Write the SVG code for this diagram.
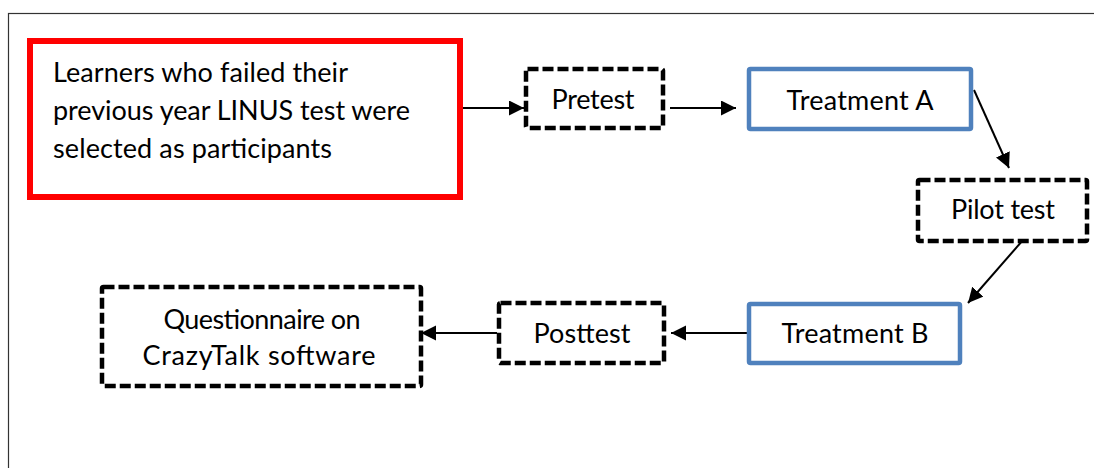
<svg xmlns="http://www.w3.org/2000/svg" width="1094" height="468" viewBox="0 0 1094 468">
  <style>
    text { font-family: Lato, "Open Sans", "Liberation Sans", sans-serif; font-size: 27px; fill: #000; }
    .c { text-anchor: middle; }
    .dash { fill: #fff; stroke: #000; stroke-width: 4.5; stroke-dasharray: 11 4; stroke-linejoin: round; }
    .blue { fill: #fff; stroke: #4F81BD; stroke-width: 4.5; }
    .red { fill: #fff; stroke: #FF0000; stroke-width: 6; }
    .conn { stroke: #000; stroke-width: 2; fill: none; marker-end: url(#ah); }
  </style>
  <defs>
    <marker id="ah" markerUnits="userSpaceOnUse" markerWidth="16" markerHeight="16" refX="15" refY="7.5" orient="auto">
      <path d="M0,0 L15,7.5 L0,15 z" fill="#000"/>
    </marker>
  </defs>
  <rect width="1094" height="468" fill="#fff"/>
  <rect id="frame" x="8.5" y="13.5" width="1100" height="470" fill="none" stroke="#333" stroke-width="1.2"/>

  <g id="connectors">
    <line class="conn" x1="463" y1="108" x2="524" y2="108"/>
    <line class="conn" x1="670" y1="108" x2="736" y2="108"/>
    <line class="conn" x1="974" y1="90" x2="1009" y2="168"/>
    <line class="conn" x1="1023" y1="240" x2="968" y2="303"/>
    <line class="conn" x1="747" y1="333" x2="671" y2="333"/>
    <line class="conn" x1="497" y1="333" x2="421" y2="333"/>
  </g>

  <g id="participants">
    <rect class="red" x="30" y="41" width="430" height="156"/>
    <text x="53" y="82" textLength="295">Learners who failed their</text>
    <text x="53" y="120" textLength="357">previous year LINUS test were</text>
    <text x="53" y="158" textLength="279">selected as participants</text>
  </g>
  <g id="pretest">
    <rect class="dash" x="526" y="69" width="137" height="59" rx="1.5"/>
    <text class="c" x="593" y="109" textLength="83">Pretest</text>
  </g>
  <g id="treatmentA">
    <rect class="blue" x="749" y="69" width="222" height="60" rx="1.5"/>
    <text class="c" x="860" y="110" textLength="147">Treatment A</text>
  </g>
  <g id="pilot">
    <rect class="dash" x="918" y="180" width="169" height="61" rx="1.5"/>
    <text class="c" x="1003" y="219" textLength="104">Pilot test</text>
  </g>
  <g id="treatmentB">
    <rect class="blue" x="749" y="304" width="211" height="59" rx="1.5"/>
    <text class="c" x="855" y="343" textLength="147">Treatment B</text>
  </g>
  <g id="posttest">
    <rect class="dash" x="499" y="303" width="165" height="60" rx="1.5"/>
    <text class="c" x="582" y="343" textLength="97">Posttest</text>
  </g>
  <g id="questionnaire">
    <rect class="dash" x="102" y="287" width="319" height="99" rx="1.5"/>
    <text class="c" x="262" y="329" textLength="197">Questionnaire on</text>
    <text class="c" x="259" y="365" textLength="233">CrazyTalk software</text>
  </g>
</svg>
